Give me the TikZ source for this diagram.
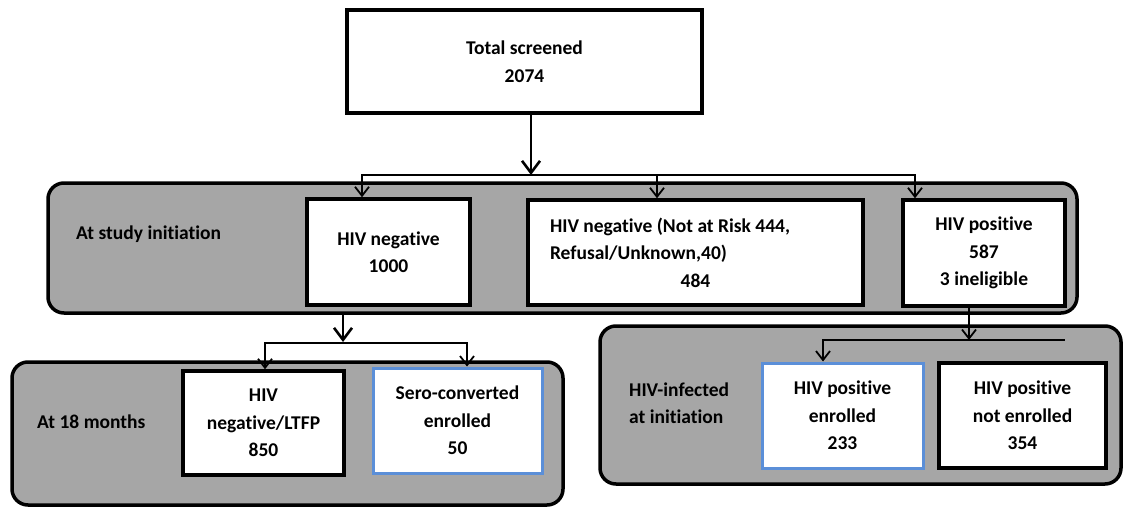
\documentclass[tikz,border=0pt]{standalone}
\usepackage{fontspec}
\setmainfont{Carlito}[Ligatures=NoCommon]
\usetikzlibrary{arrows.meta}
\definecolor{regiongray}{HTML}{A6A6A6}
\definecolor{boxblue}{HTML}{5B8FD8}
\tikzset{
  txt/.style={font=\fontsize{19.5}{27.5}\selectfont\bfseries},
  box/.style={txt, draw=black, line width=3.5pt, fill=white, inner sep=0pt, align=center},
  bluebox/.style={box, draw=boxblue, line width=3pt},
  region/.style={draw=black, line width=3.5pt, fill=regiongray, rounded corners=16pt, inner sep=0pt},
  conn/.style={line width=1.8pt, line cap=rect},
  arr/.style={line width=1.8pt, -{Straight Barb[length=9pt,width=14pt]}},
  bigarr/.style={line width=2.6pt, -{Straight Barb[length=12pt,width=18pt]}},
  lbl/.style={txt, align=left, anchor=west, inner sep=0pt},
}
\begin{document}
\begin{tikzpicture}[x=1pt, y=-1pt]
\useasboundingbox (0,0) rectangle (1126,508);
% group regions
\node[region, minimum width=1029pt, minimum height=130pt] (region1) at (562.5,248) {};
\node[region, minimum width=551pt, minimum height=143pt] (region3) at (287.5,433.5) {};
\node[region, minimum width=521pt, minimum height=158pt] (region2) at (860.5,405) {};
% labels
\node[lbl] (lab1) at (76,234) {At study initiation};
\node[lbl] (lab3) at (37,422) {At 18 months};
\node[lbl] (lab2) at (629,403) {HIV-infected\\at initiation};
% boxes
\node[box, minimum width=355pt, minimum height=103pt] (top) at (524.5,61.5) {Total screened\\2074};
\node[box, minimum width=163pt, minimum height=106pt] (neg1000) at (388.5,252) {HIV negative\\1000};
\node[box, minimum width=335pt, minimum height=105pt] (mid484) at (695.5,252.5)
  {\parbox{291pt}{\raggedright HIV negative (Not at Risk 444,\\Refusal/Unknown,40)\par\centering 484\par}};
\node[box, minimum width=162pt, minimum height=106pt] (pos587) at (984,253) {HIV positive\\587\\3 ineligible};
\node[box, minimum width=161pt, minimum height=104pt] (neg850) at (263.5,423) {HIV\\negative/LTFP\\850};
\node[bluebox, minimum width=169pt, minimum height=105pt] (sero50) at (457.5,420.5) {Sero-converted\\enrolled\\50};
\node[bluebox, minimum width=161pt, minimum height=105pt] (posenr) at (842.5,415.5) {HIV positive\\enrolled\\233};
\node[box, minimum width=167pt, minimum height=105pt] (posnot) at (1022.5,415.5) {HIV positive\\not enrolled\\354};
% connectors: level 1
\coordinate (h1) at (531,175);
\coordinate (a1) at (362,175);
\coordinate (a2) at (657,175);
\coordinate (a3) at (915,175);
\draw[bigarr] (top.south -| h1) -- (h1);
\draw[conn] (a1) -- (a3);
\draw[arr] (a1) -- (a1 |- neg1000.north);
\draw[arr] (a2) -- (a2 |- mid484.north);
\draw[arr] (a3) -- (a3 |- pos587.north);
% connectors: to 18 months
\coordinate (b0) at (343,342);
\coordinate (b1) at (265,343);
\coordinate (b2) at (467,343);
\draw[bigarr] (region1.south -| b0) -- (b0);
\draw[conn] (b1) -- (b2);
\draw[arr] (b1) -- (b1 |- neg850.north);
\draw[arr] (b2) -- (b2 |- sero50.north);
% connectors: HIV-infected
\coordinate (c0) at (969,340);
\coordinate (c1) at (823,340);
\coordinate (c2) at (1064,340);
\draw[arr] (pos587.south -| c0) -- (c0);
\draw[conn] (c1) -- (c2);
\draw[arr] (c1) -- (c1 |- posenr.north);
\end{tikzpicture}
\end{document}
